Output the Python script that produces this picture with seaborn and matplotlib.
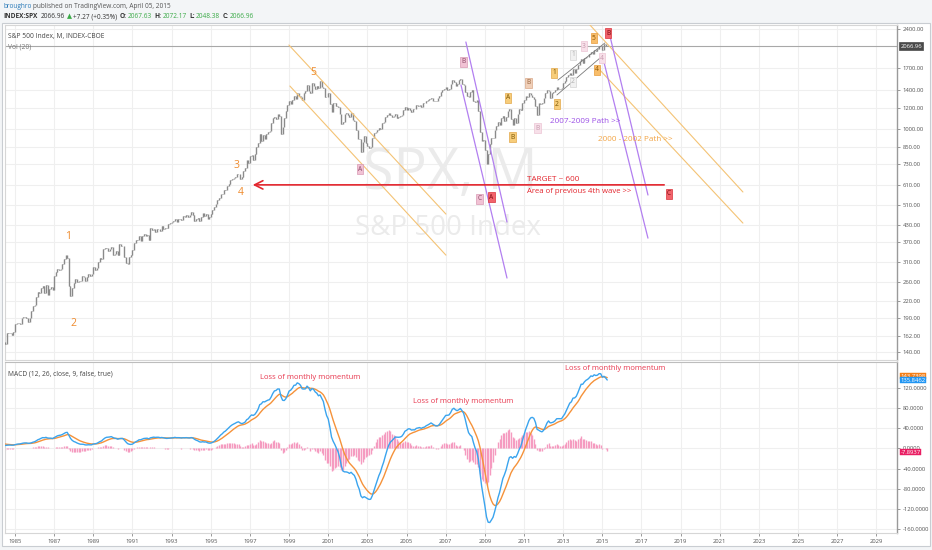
import numpy as np
import pandas as pd
import matplotlib
matplotlib.use("Agg")
import matplotlib.pyplot as plt
import seaborn as sns
from matplotlib.patches import Rectangle
from matplotlib.transforms import blended_transform_factory

# ---------------- data ----------------
first_year = 1982  # monthly closes of S&P 500, Jan 1982 .. Apr 2015
spx_close = [
    120.40, 113.11, 111.96, 116.44, 111.88, 109.61, 107.09, 119.51, 120.42, 133.71, 138.54, 140.64,  # 1982
    145.30, 148.06, 152.96, 164.42, 162.39, 168.11, 162.56, 164.40, 166.07, 163.55, 166.40, 164.93,  # 1983
    163.41, 157.06, 159.18, 160.05, 150.55, 153.18, 150.66, 166.68, 166.10, 166.09, 163.58, 167.24,  # 1984
    179.63, 181.18, 180.66, 179.83, 189.55, 191.85, 190.92, 188.63, 182.08, 189.82, 202.17, 211.28,  # 1985
    211.78, 226.92, 238.90, 235.52, 247.35, 250.84, 236.12, 252.93, 231.32, 243.98, 249.22, 242.17,  # 1986
    274.08, 284.20, 291.70, 288.36, 290.10, 304.00, 318.66, 329.80, 321.83, 251.79, 230.30, 247.08,  # 1987
    257.07, 267.82, 258.89, 261.33, 262.16, 273.50, 272.02, 261.52, 271.91, 278.97, 273.70, 277.72,  # 1988
    297.47, 288.86, 294.87, 309.64, 320.52, 317.98, 346.08, 351.45, 349.15, 340.36, 345.99, 353.40,  # 1989
    329.08, 331.89, 339.94, 330.80, 361.23, 358.02, 356.15, 322.56, 306.05, 304.00, 322.22, 330.22,  # 1990
    343.93, 367.07, 375.22, 375.35, 389.83, 371.16, 387.81, 395.43, 387.86, 392.46, 375.22, 417.09,  # 1991
    408.79, 412.70, 403.69, 414.95, 415.35, 408.14, 424.21, 414.03, 417.80, 418.68, 431.35, 435.71,  # 1992
    438.78, 443.38, 451.67, 440.19, 450.19, 450.53, 448.13, 463.56, 458.93, 467.83, 461.79, 466.45,  # 1993
    481.61, 467.14, 445.77, 450.91, 456.50, 444.27, 458.26, 475.49, 462.69, 472.35, 453.69, 459.27,  # 1994
    470.42, 487.39, 500.71, 514.71, 533.40, 544.75, 562.06, 561.88, 584.41, 581.50, 605.37, 615.93,  # 1995
    636.02, 640.43, 645.50, 654.17, 669.12, 670.63, 639.95, 651.99, 687.31, 705.27, 757.02, 740.74,  # 1996
    786.16, 790.82, 757.12, 801.34, 848.28, 885.14, 954.29, 899.47, 947.28, 914.62, 955.40, 970.43,  # 1997
    980.28, 1049.34, 1101.75, 1111.75, 1090.82, 1133.84, 1120.67, 957.28, 1017.01, 1098.67, 1163.63, 1229.23,  # 1998
    1279.64, 1238.33, 1286.37, 1335.18, 1301.84, 1372.71, 1328.72, 1320.41, 1282.71, 1362.93, 1388.91, 1469.25,  # 1999
    1394.46, 1366.42, 1498.58, 1452.43, 1420.60, 1454.60, 1430.83, 1517.68, 1436.51, 1429.40, 1314.95, 1320.28,  # 2000
    1366.01, 1239.94, 1160.33, 1249.46, 1255.82, 1224.42, 1211.23, 1133.58, 1040.94, 1059.78, 1139.45, 1148.08,  # 2001
    1130.20, 1106.73, 1147.39, 1076.92, 1067.14, 989.82, 911.62, 916.07, 815.28, 885.76, 936.31, 879.82,  # 2002
    855.70, 841.15, 848.18, 916.92, 963.59, 974.50, 990.31, 1008.01, 995.97, 1050.71, 1058.20, 1111.92,  # 2003
    1131.13, 1144.94, 1126.21, 1107.30, 1120.68, 1140.84, 1101.72, 1104.24, 1114.58, 1130.20, 1173.82, 1211.92,  # 2004
    1181.27, 1203.60, 1180.59, 1156.85, 1191.50, 1191.33, 1234.18, 1220.33, 1228.81, 1207.01, 1249.48, 1248.29,  # 2005
    1280.08, 1280.66, 1294.83, 1310.61, 1270.09, 1270.20, 1276.66, 1303.82, 1335.85, 1377.94, 1400.63, 1418.30,  # 2006
    1438.24, 1406.82, 1420.86, 1482.37, 1530.62, 1503.35, 1455.27, 1473.99, 1526.75, 1549.38, 1481.14, 1468.36,  # 2007
    1378.55, 1330.63, 1322.70, 1385.59, 1400.38, 1280.00, 1267.38, 1282.83, 1166.36, 968.75, 896.24, 903.25,  # 2008
    825.88, 735.09, 797.87, 872.81, 919.14, 919.32, 987.48, 1020.62, 1057.08, 1036.19, 1095.63, 1115.10,  # 2009
    1073.87, 1104.49, 1169.43, 1186.69, 1089.41, 1030.71, 1101.60, 1049.33, 1141.20, 1183.26, 1180.55, 1257.64,  # 2010
    1286.12, 1327.22, 1325.83, 1363.61, 1345.20, 1320.64, 1292.28, 1218.89, 1131.42, 1253.30, 1246.96, 1257.60,  # 2011
    1312.41, 1365.68, 1408.47, 1397.91, 1310.33, 1362.16, 1379.32, 1406.58, 1440.67, 1412.16, 1416.18, 1426.19,  # 2012
    1498.11, 1514.68, 1569.19, 1597.57, 1630.74, 1606.28, 1685.73, 1632.97, 1681.55, 1756.54, 1805.81, 1848.36,  # 2013
    1782.59, 1859.45, 1872.34, 1883.95, 1923.57, 1960.23, 1930.67, 2003.37, 1972.29, 2018.05, 2067.56, 2058.90,  # 2014
    1994.99, 2104.50, 2067.89, 2066.96,  # 2015
]
last_price = 2066.96

price_ticks = [140, 162, 190, 220, 260, 310, 370, 430, 510, 610, 730, 850, 1000, 1200, 1400, 1700, 2400]
macd_ticks = [-160, -120, -80, -40, 0, 40, 80, 120]
year_ticks = list(range(1985, 2030, 2))

# drawings (decimal year, price)
orange_lines = [((1998.99, 2085), (2007.01, 472)), ((1999.04, 1454), (2007.01, 329)),
                ((2014.37, 2485), (2022.18, 573)), ((2014.78, 1703), (2022.18, 436))]
purple_lines = [((2008.03, 2141), (2010.13, 440)), ((2007.78, 1467), (2010.13, 269)),
                ((2015.34, 2337), (2017.33, 558)), ((2015.03, 1860), (2017.33, 382))]
grey_lines = [((2012.73, 1532), (2015.13, 2123)), ((2012.68, 1344), (2014.88, 1860))]
target_price = 610
target_span = (1997.0, 2018.3)

wave_numbers = [("1", 1987.71, 386), ("2", 1987.96, 180), ("3", 1996.29, 726),
                ("4", 1996.54, 568), ("5", 2000.22, 1631)]
box_labels = [  # text, year, price, style
    ("B", 2007.93, 1796, "pink"), ("A", 2002.62, 701, "pink"),
    ("A", 2010.18, 1309, "yellow"), ("B", 2010.43, 929, "yellow"),
    ("B", 2011.25, 1494, "tan"), ("B", 2011.71, 1005, "palepink"),
    ("1", 2012.53, 1631, "yellow"), ("2", 2012.68, 1241, "yellow"),
    ("1", 2013.50, 1910, "palegrey"), ("2", 2013.50, 1507, "palegrey"),
    ("3", 2014.06, 2067, "palepink"), ("4", 2014.72, 1674, "orange"),
    ("5", 2014.57, 2217, "orange"), ("4", 2014.98, 1860, "palepink"),
    ("B", 2015.29, 2316, "red"), ("C", 2008.74, 539, "pink"),
    ("A", 2009.34, 548, "red"), ("C", 2018.40, 563, "red"),
]
momentum_notes = [(2000.07, 140), (2007.88, 94), (2015.64, 158)]
macd_last = [143.7398, 135.8462, -7.8937]

# ---------------- computation ----------------
close = np.array(spx_close)
t = first_year + np.arange(len(close)) / 12.0
opens = np.concatenate([[close[0]], close[:-1]])
s = pd.Series(close)
macd = (s.ewm(span=12, adjust=False).mean() - s.ewm(span=26, adjust=False).mean()).values
signal = pd.Series(macd).ewm(span=9, adjust=False).mean().values
hist = macd - signal
vis = t >= 1984.3
df = pd.DataFrame({"t": t[vis], "macd": macd[vis], "signal": signal[vis]})

# ---------------- figure ----------------
sns.set_theme(style="white")
plt.rcParams["font.family"] = ["Open Sans", "DejaVu Sans"]
W, H = 932, 550
fig = plt.figure(figsize=(W / 100, H / 100), dpi=100, facecolor="#f3f5f7")


def fx(x):
    return x / W


def fy(y):
    return 1 - y / H


fig.patches.append(Rectangle((fx(2), fy(546)), fx(928), (546 - 23) / H, transform=fig.transFigure,
                             facecolor="white", edgecolor="#c9cdd2", lw=0.8, zorder=-10))

ax1 = fig.add_axes([fx(5), fy(360), fx(892), 335 / H])
ax2 = fig.add_axes([fx(5), fy(533), fx(892), 171 / H])
XL = (1984.49, 2030.05)

grid_c = "#efefef"
tick_c = "#555555"
TICK_FS = 4.2
for ax in (ax1, ax2):
    ax.set_facecolor("white")
    ax.set_xlim(*XL)
    ax.yaxis.tick_right()
    for sp in ("left", "top", "bottom"):
        ax.spines[sp].set_color("#d6d6d6")
        ax.spines[sp].set_linewidth(0.8)
    ax.spines["right"].set_color("#9a9a9a")
    ax.spines["right"].set_linewidth(1.0)
    ax.set_xticks(year_ticks)
    for yr in year_ticks:
        ax.axvline(yr, color=grid_c, lw=0.8, zorder=0)
    ax.tick_params(axis="y", which="both", direction="out", length=2.5, width=0.6, color="#888",
                   labelsize=TICK_FS, labelcolor=tick_c, pad=1.5, right=True, left=False)

# ---- price pane ----
ax1.set_yscale("log")
ax1.set_ylim(130.9, 2486)
ax1.set_yticks(price_ticks)
ax1.set_yticklabels([f"{v:.2f}" for v in price_ticks])
ax1.yaxis.set_minor_locator(matplotlib.ticker.NullLocator())
ax1.tick_params(axis="x", bottom=False, labelbottom=False)
for v in price_ticks:
    ax1.axhline(v, color=grid_c, lw=0.8, zorder=0)

ax1.text(0.499, 0.555, "SPX, M", transform=ax1.transAxes, ha="center", va="center",
         fontsize=40, color="#ebebeb", zorder=0.5)
ax1.text(0.497, 0.394, "S&P 500 Index", transform=ax1.transAxes, ha="center", va="center",
         fontsize=20, color="#ebebeb", zorder=0.5)

lo = np.minimum(opens, close)
hi = np.maximum(opens, close)
ax1.vlines(t[vis], lo[vis], hi[vis], color="#8a8a8a", lw=1.0, zorder=3)
ax1.hlines(close[vis], t[vis], t[vis] + 0.04, color="#8a8a8a", lw=0.6, zorder=3)

ax1.axhline(last_price, color="#a8a8a8", lw=0.8, zorder=2)

for (x0, p0), (x1, p1) in orange_lines:
    ax1.plot([x0, x1], [p0, p1], color="#f4c375", lw=0.8, zorder=4)
for (x0, p0), (x1, p1) in purple_lines:
    ax1.plot([x0, x1], [p0, p1], color="#b27ff0", lw=0.9, zorder=4)
for (x0, p0), (x1, p1) in grey_lines:
    ax1.plot([x0, x1], [p0, p1], color="#7a7a7a", lw=0.6, zorder=4)

red = "#e3262e"
ax1.annotate("", xy=(target_span[0], target_price), xytext=(target_span[1], target_price),
             arrowprops=dict(arrowstyle="->,head_length=0.5,head_width=0.25", color=red, lw=1.2),
             zorder=5)
ax1.text(2011.15, 638, "TARGET ~ 600", color=red, fontsize=5.9, ha="left", va="center", zorder=6)
ax1.text(2011.15, 574, "Area of previous 4th wave >>", color=red, fontsize=5.6, ha="left",
         va="center", zorder=6)
ax1.text(2012.32, 1069, "2007-2009 Path >>", color="#9b4fe6", fontsize=5.9, ha="left", va="center",
         zorder=6)
ax1.text(2014.78, 905, "2000 - 2002 Path >>", color="#f2a445", fontsize=5.9, ha="left",
         va="center", zorder=6)

for lab, x, p in wave_numbers:
    ax1.text(x, p, lab, color="#ef8a2c", fontsize=7.5, ha="center", va="center", zorder=6)

styles = {
    "pink": ("#f1c2d4", "#d99ab4", "#8b4a68"),
    "palepink": ("#f7e0e9", "#ecc4d4", "#c79aae"),
    "yellow": ("#f7cd7a", "#e3a84a", "#7a5300"),
    "tan": ("#f0cfb8", "#d9a98a", "#9a6640"),
    "orange": ("#f8bd6a", "#e89c3a", "#8a5200"),
    "palegrey": ("#f1f1f1", "#d4d4d4", "#b0b0b0"),
    "red": ("#f2636b", "#d9333b", "#7a0a10"),
}
for lab, x, p, st in box_labels:
    fc, ec, tc = styles[st]
    ax1.text(x, p, lab, color=tc, fontsize=4.8, ha="center", va="center", zorder=7,
             bbox=dict(boxstyle="square,pad=0.2", fc=fc, ec=ec, lw=0.5))

ax1.text(0.0035, 0.967, "S&P 500 Index, M, INDEX-CBOE", transform=ax1.transAxes, fontsize=4.8,
         color="#444", ha="left", va="center", zorder=8)
ax1.text(0.0035, 0.935, "Vol (20)", transform=ax1.transAxes, fontsize=4.8, color="#777",
         ha="left", va="center", zorder=8)

tr1 = blended_transform_factory(ax1.transAxes, ax1.transData)
ax1.text(1.004, last_price, f"{last_price:.2f}", transform=tr1, fontsize=TICK_FS, color="white",
         ha="left", va="center", zorder=9,
         bbox=dict(boxstyle="square,pad=0.2", fc="#4a4a4a", ec="#4a4a4a", lw=0.5))

# ---- MACD pane ----
ax2.set_ylim(-168, 171.6)
ax2.set_yticks(macd_ticks)
ax2.set_yticklabels([f"{v:.4f}" for v in macd_ticks])
for v in macd_ticks:
    ax2.axhline(v, color=grid_c, lw=0.8, zorder=0)
ax2.set_xticklabels([str(y) for y in year_ticks])
ax2.tick_params(axis="x", bottom=True, direction="out", length=2.5, width=0.6, color="#888",
                labelsize=TICK_FS, labelcolor=tick_c, pad=1.5)
ax2.spines["top"].set_color("#bdbdbd")

ax2.vlines(t[vis], 0, hist[vis], color="#f59bc0", lw=1.0, zorder=2)
sns.lineplot(data=df, x="t", y="signal", ax=ax2, color="#f5923a", lw=1.0, zorder=3)
sns.lineplot(data=df, x="t", y="macd", ax=ax2, color="#3aa4ee", lw=1.0, zorder=4)
ax2.set_xlabel("")
ax2.set_ylabel("")
ax2.set_xlim(*XL)

for x, v in momentum_notes:
    ax2.text(x, v, "Loss of monthly momentum", color="#e8384f", fontsize=5.5, ha="center",
             va="center", zorder=6)
ax2.text(0.0035, 0.93, "MACD (12, 26, close, 9, false, true)", transform=ax2.transAxes,
         fontsize=4.8, color="#444", ha="left", va="center", zorder=8)

tr2 = blended_transform_factory(ax2.transAxes, ax2.transData)
for v, c in zip(macd_last, ["#f57f17", "#2196f3", "#e91e63"]):
    ax2.text(1.004, v, f"{v:.4f}", transform=tr2, fontsize=TICK_FS, color="white", ha="left",
             va="center", zorder=9, bbox=dict(boxstyle="square,pad=0.1", fc=c, ec=c, lw=0.3))

# ---- header (laid out left to right) ----
renderer = fig.canvas.get_renderer()
HDR = 4.7
green = "#3aaa47"


def header_line(parts, y):
    x = 3.0
    for txt, c, w, gap in parts:
        tobj = fig.text(fx(x), fy(y), txt, color=c, fontsize=HDR, fontweight=w, ha="left",
                        va="center", family=["Open Sans", "DejaVu Sans"])
        bb = tobj.get_window_extent(renderer)
        x += bb.width + gap


header_line([("broughro", "#2a7ab8", "normal", 2),
             ("published on TradingView.com, April 05, 2015", "#555", "normal", 2)], 7)
header_line([("INDEX:SPX", "#333", "bold", 3), ("2066.96", "#333", "normal", 2),
             ("\u25b2", green, "normal", 1.5), ("+7.27 (+0.35%)", "#333", "normal", 2.5),
             ("O:", "#333", "bold", 1), ("2067.63", green, "normal", 2.5),
             ("H:", "#333", "bold", 1), ("2072.17", green, "normal", 2.5),
             ("L:", "#333", "bold", 1), ("2048.38", green, "normal", 2.5),
             ("C:", "#333", "bold", 1), ("2066.96", green, "normal", 2.5)], 17)

fig.savefig("out.png", dpi=100, facecolor=fig.get_facecolor())
